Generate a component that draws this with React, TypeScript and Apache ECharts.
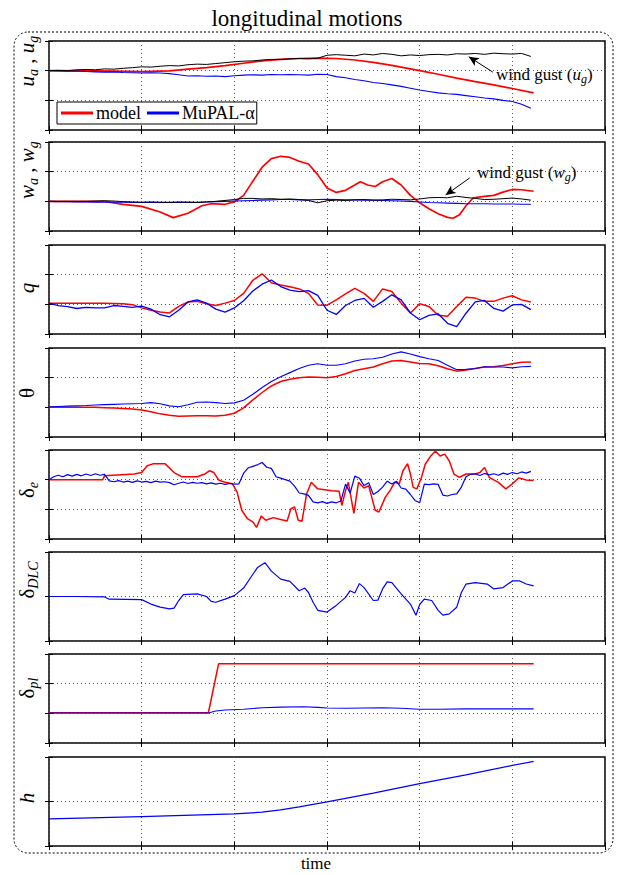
import { useEffect, useRef } from 'react';
import * as echarts from 'echarts';

// ---- data (time in tenths of a grid division; values in panel units) ----
// uniformly sampled series: one sample per time unit (t = 0, 1, 2, ...)
const U_GUST = [
  2.0, 2.01, 2.0, 2.03, 2.04, 2.03, 2.06, 2.05, 2.08, 2.1,
  2.13, 2.12, 2.15, 2.17, 2.16, 2.2, 2.22, 2.21, 2.24, 2.27,
  2.3, 2.32, 2.33, 2.36, 2.38, 2.38, 2.4, 2.41, 2.4, 2.42,
  2.52, 2.54, 2.52, 2.5, 2.56, 2.53, 2.58, 2.55, 2.5, 2.53,
  2.51, 2.54, 2.55, 2.53, 2.57, 2.56, 2.58, 2.55, 2.59, 2.57,
  2.56, 2.58, 2.48,
];
const U_MUPAL = [
  2.0, 1.99, 1.98, 1.99, 1.97, 1.96, 1.95, 1.96, 1.94, 1.93,
  1.92, 1.93, 1.92, 1.9, 1.86, 1.82, 1.83, 1.81, 1.82, 1.8,
  1.83, 1.85, 1.86, 1.85, 1.87, 1.86, 1.87, 1.86, 1.85, 1.88,
  1.87, 1.8, 1.76, 1.7, 1.66, 1.6, 1.57, 1.52, 1.47, 1.41,
  1.35, 1.3, 1.25, 1.22, 1.2, 1.16, 1.12, 1.08, 1.05, 1.0,
  0.96, 0.87, 0.73,
];
const U_MODEL: [number, number][] = [
  [0, 2.0], [5, 1.99], [10, 1.97], [13, 1.99], [15, 2.05], [17, 2.1], [19, 2.17],
  [21, 2.25], [23, 2.33], [25, 2.38], [27, 2.41], [29, 2.42], [31, 2.41], [33, 2.36],
  [35, 2.28], [37, 2.18], [39, 2.06], [40, 2.0], [42, 1.88], [44, 1.75], [46, 1.63],
  [48, 1.52], [50, 1.4], [52.3, 1.25],
];

const W_GUST = [
  1.0, 1.0, 1.0, 1.0, 1.0, 1.01, 1.02, 1.01, 0.99, 0.98,
  0.97, 0.98, 0.97, 0.96, 0.98, 0.97, 0.96, 0.98, 1.0, 1.03,
  1.06, 1.1, 1.1, 1.08, 1.09, 1.07, 1.08, 1.06, 1.03, 0.95,
  1.02, 1.04, 1.03, 1.05, 1.06, 1.04, 1.05, 1.07, 1.06, 1.05,
  1.08, 1.12, 1.13, 1.12, 1.17, 1.13, 1.1, 1.06, 1.07, 1.09,
  1.11, 1.08, 1.04,
];
const W_MUPAL = [
  1.0, 0.99, 0.99, 0.98, 0.98, 0.97, 0.97, 0.97, 0.97, 0.96,
  0.96, 0.96, 0.96, 0.97, 0.96, 0.97, 0.97, 0.98, 0.99, 1.0,
  1.01, 1.02, 1.03, 1.04, 1.05, 1.06, 1.06, 1.05, 1.05, 1.06,
  1.07, 1.06, 1.05, 1.05, 1.04, 1.04, 1.03, 1.02, 1.01, 1.0,
  0.98, 0.96, 0.95, 0.94, 0.93, 0.92, 0.92, 0.92, 0.91, 0.91,
  0.91, 0.9, 0.9,
];
const W_MODEL: [number, number][] = [
  [0, 1.0], [6, 1.0], [8, 0.9], [10, 0.83], [12, 0.64], [13.4, 0.45], [15, 0.6],
  [16.5, 0.85], [17.5, 0.92], [19, 0.9], [20, 0.98], [21, 1.2], [22, 1.68], [23, 2.15],
  [24, 2.44], [25, 2.52], [26, 2.48], [27, 2.35], [28, 2.26], [29, 1.9], [30, 1.45],
  [31, 1.3], [32, 1.37], [33, 1.55], [33.6, 1.66], [34.4, 1.55], [35.2, 1.5], [36, 1.66],
  [37, 1.77], [38, 1.55], [39, 1.2], [40, 0.95], [41, 0.75], [42, 0.58], [43, 0.46],
  [43.6, 0.43], [44.3, 0.55], [45, 0.85], [45.8, 1.12], [47, 1.17], [48, 1.2], [49, 1.31],
  [50, 1.4], [51, 1.39], [52.3, 1.34],
];

const Q_MODEL = [
  1.04, 1.04, 1.04, 1.04, 1.04, 1.04, 1.04, 1.03, 1.02, 0.99,
  0.88, 0.8, 0.74, 0.71, 0.93, 1.08, 1.1, 1.02, 0.96, 1.04,
  1.13, 1.37, 1.81, 2.03, 1.73, 1.65, 1.59, 1.52, 1.37, 0.98,
  0.97, 1.15, 1.35, 1.54, 1.37, 1.1, 1.52, 1.43, 1.04, 0.71,
  1.02, 0.93, 0.63, 0.6, 0.93, 1.24, 1.21, 1.1, 1.1, 1.21,
  1.29, 1.15, 1.08,
];
const Q_MUPAL = [
  1.04, 0.96, 0.92, 0.86, 0.9, 0.88, 0.88, 0.96, 0.93, 0.9,
  0.94, 0.84, 0.65, 0.58, 0.8, 1.08, 1.15, 1.04, 0.84, 0.74,
  0.88, 1.12, 1.45, 1.68, 1.82, 1.6, 1.48, 1.43, 1.46, 1.3,
  0.8, 0.66, 0.96, 1.13, 1.2, 0.9, 1.1, 1.32, 1.15, 0.71,
  0.48, 0.63, 0.68, 0.36, 0.25, 0.7, 1.08, 1.13, 0.86, 0.77,
  0.98, 1.0, 0.82,
];

const TH_MODEL = [
  1.0, 1.0, 1.0, 1.0, 1.0, 1.0, 0.99, 0.98, 0.96, 0.94,
  0.91, 0.85, 0.78, 0.73, 0.7, 0.71, 0.72, 0.72, 0.71, 0.73,
  0.8, 0.98, 1.25, 1.5, 1.72, 1.87, 1.95, 2.0, 2.02, 2.01,
  2.0, 2.04, 2.13, 2.24, 2.3, 2.36, 2.47, 2.56, 2.58, 2.53,
  2.48, 2.47, 2.4, 2.3, 2.22, 2.26, 2.31, 2.36, 2.37, 2.41,
  2.47, 2.52, 2.53,
];
const TH_MUPAL = [
  1.02, 1.03, 1.04, 1.05, 1.06, 1.08, 1.09, 1.1, 1.11, 1.12,
  1.13, 1.16, 1.12, 1.05, 1.02, 1.09, 1.17, 1.18, 1.16, 1.13,
  1.15, 1.24, 1.44, 1.67, 1.87, 2.03, 2.17, 2.31, 2.42, 2.47,
  2.42, 2.42, 2.47, 2.56, 2.62, 2.64, 2.69, 2.8, 2.87, 2.8,
  2.71, 2.64, 2.58, 2.42, 2.27, 2.28, 2.31, 2.37, 2.36, 2.36,
  2.33, 2.37, 2.38,
];

// elevator: measured trace sampled every half time unit
const DE_MUPAL = [
  2.0, 2.1, 2.15, 2.1, 2.17, 2.12, 2.18, 2.13, 2.19, 2.14, 2.2, 2.15, 2.18,
  1.96, 1.93, 1.97, 1.92, 1.95, 1.91, 1.96, 1.92, 1.94, 1.9, 1.95, 1.92, 1.93, 1.9,
  1.83, 1.88, 1.92, 1.87, 1.91, 1.88, 1.9, 1.86, 1.89, 1.85, 1.88, 1.84, 1.87, 1.85, 1.86,
  2.22, 2.4, 2.45, 2.5, 2.58, 2.42, 2.38,
  2.1, 2.05, 2.0, 1.95, 1.78, 1.55,
  1.52, 1.47, 1.25, 1.22, 1.26, 1.2, 1.25, 1.22, 1.28,
  1.85, 1.55, 2.12, 2.05, 1.8, 1.9, 1.5,
  1.6, 1.75, 1.95, 1.85, 1.95, 1.72, 1.68, 1.5,
  1.3, 1.22, 1.85, 1.83, 1.86, 1.84,
  1.48, 1.45, 1.5, 1.52, 1.75,
  2.1, 2.18, 2.2, 2.14, 2.21, 2.16, 2.2, 2.15, 2.22, 2.18, 2.24, 2.2, 2.26, 2.22, 2.28,
];
const DE_MODEL: [number, number][] = [
  [0, 2.0], [5.8, 2.0], [6.0, 2.13], [9.2, 2.19], [10, 2.24], [10.6, 2.47], [11.3, 2.54],
  [12.5, 2.54], [13.5, 2.24], [14.3, 2.1], [16, 2.1], [16.8, 2.19], [17.3, 2.3], [17.8, 2.24],
  [18.3, 1.99], [19, 1.91], [19.8, 1.86], [20.3, 1.58], [20.8, 0.97], [21.4, 0.69], [22, 0.58],
  [22.4, 0.39], [22.9, 0.77], [23.4, 0.63], [24.2, 0.72], [25, 0.66], [25.7, 0.61], [26.1, 1.02],
  [26.5, 1.08], [26.9, 0.63], [27.3, 0.6], [27.8, 1.52], [28.3, 1.91], [29, 1.69], [30.5, 1.63],
  [31.3, 1.61], [31.6, 1.13], [32, 1.63], [32.3, 1.91], [32.9, 0.86], [33.4, 1.91], [34, 1.72],
  [34.5, 1.8], [35.2, 0.97], [35.6, 0.91], [36.3, 1.41], [36.8, 1.63], [37.3, 1.91], [37.8, 1.86],
  [38.2, 2.3], [38.7, 2.54], [39, 2.19], [39.3, 1.74], [39.7, 1.69], [40.2, 2.08], [40.6, 2.52],
  [41.2, 2.8], [41.7, 2.97], [42.2, 2.8], [42.7, 2.86], [43.2, 2.63], [43.7, 2.19], [44.3, 2.08],
  [45, 2.19], [46, 2.19], [46.5, 2.24], [47, 2.41], [47.5, 2.08], [48.5, 1.91], [49.3, 1.69],
  [50, 1.86], [50.7, 2.06], [51.5, 1.99], [52.3, 1.97],
];

const DLC_MUPAL: [number, number][] = [
  [0, 1.0], [3, 1.0], [6, 0.99], [6.5, 0.94], [10, 0.93], [11, 0.83], [12, 0.76], [13, 0.72],
  [13.5, 0.74], [14, 0.91], [14.5, 1.04], [16, 1.06], [17, 1.0], [17.5, 0.89], [18, 0.87],
  [19, 0.94], [20, 1.02], [21, 1.19], [22, 1.5], [22.5, 1.65], [23, 1.72], [23.3, 1.76],
  [24, 1.57], [25, 1.39], [26, 1.34], [27, 1.13], [27.6, 1.19], [28, 1.09], [28.5, 0.87],
  [29, 0.69], [30, 0.65], [31, 0.8], [32, 0.98], [32.5, 1.13], [33, 1.08], [33.5, 1.29],
  [34, 1.2], [35, 0.91], [35.5, 0.92], [36, 1.17], [36.5, 1.33], [37, 1.31], [38, 1.06],
  [39, 0.83], [39.6, 0.58], [40, 0.82], [40.5, 0.94], [41.3, 0.91], [42, 0.69], [42.5, 0.58],
  [43.2, 0.61], [44, 0.76], [44.5, 1.09], [45, 1.28], [46, 1.31], [47.3, 1.28], [48, 1.17],
  [49, 1.2], [50, 1.35], [50.8, 1.35], [51.5, 1.28], [52.3, 1.24],
];

const PL_MODEL: [number, number][] = [[0, 1.02], [17.2, 1.02], [18.3, 2.67], [52.3, 2.67]];
const PL_MUPAL: [number, number][] = [
  [0, 1.01], [17.2, 1.01], [18, 1.08], [19, 1.11], [21, 1.14], [23, 1.19], [25, 1.21],
  [27.5, 1.22], [29, 1.2], [30, 1.18], [32, 1.17], [34, 1.18], [36, 1.19], [38, 1.17],
  [40, 1.14], [42, 1.14], [45, 1.15], [48, 1.15], [52.3, 1.15],
];

const H_MUPAL: [number, number][] = [
  [0, 0.61], [10, 0.66], [20, 0.72], [23, 0.76], [25, 0.81], [27, 0.88], [30, 0.99],
  [35, 1.19], [40, 1.4], [45, 1.6], [50, 1.81], [52.3, 1.9],
];

// gust annotation arrows: [tail, head] in data coordinates
const U_GUST_ARROW: [number, number][] = [[47.9, 1.95], [45.3, 2.47]];
const W_GUST_ARROW: [number, number][] = [[45.4, 1.79], [42.8, 1.21]];

const Y_LABELS = [
  '{i|u}{s|a}{n| , }{i|u}{s|g}',
  '{i|w}{s|a}{n| , }{i|w}{s|g}',
  '{i|q}',
  '{g|θ}',
  '{g|δ}{s|e}',
  '{g|δ}{s|DLC}',
  '{g|δ}{s|pl}',
  '{i|h}',
];

// ---- layout ----
const SERIF = "'Liberation Serif', 'DejaVu Serif', serif";
const RED = '#ff0000';
const BLUE = '#0000ff';
const BLACK = '#000000';
const PLOT_LEFT = 49;
const PLOT_WIDTH = 556;
const PANEL_TOPS = [41, 142, 245, 348, 450, 552, 654, 757];
const PANEL_HEIGHT = 89;
const PANEL_YMAX = [3, 3, 3, 3, 3, 2, 3, 2];
const LABEL_Y = [61, 170, 288, 393, 490, 580, 688, 798];

const seq = (vals: number[], step: number): [number, number][] =>
  vals.map((v, i) => [i * step, v]);

function buildOption(): echarts.EChartsOption {
  const grid: any[] = [];
  const xAxis: any[] = [];
  const yAxis: any[] = [];
  const tick = { show: true, inside: true, length: 4, lineStyle: { color: BLACK, width: 1 } };
  const dotted = { show: true, lineStyle: { color: '#555', type: [1, 3], width: 1 } };

  PANEL_TOPS.forEach((top, i) => {
    grid.push({
      left: PLOT_LEFT, width: PLOT_WIDTH, top, height: PANEL_HEIGHT,
      show: true, borderColor: BLACK, borderWidth: 1.5, backgroundColor: 'transparent',
      outerBoundsMode: 'none',
    });
    const xBase = {
      type: 'value', gridIndex: i, min: 0, max: 60, interval: 10,
      axisLine: { show: false }, axisTick: tick, axisLabel: { show: false },
    };
    xAxis.push({ ...xBase, position: 'bottom', splitLine: dotted });
    xAxis.push({ ...xBase, position: 'top', splitLine: { show: false } });
    const yBase = {
      type: 'value', gridIndex: i, min: 0, max: PANEL_YMAX[i], interval: 1,
      axisLine: { show: false }, axisTick: tick, axisLabel: { show: false },
    };
    yAxis.push({ ...yBase, position: 'left', splitLine: dotted });
    yAxis.push({ ...yBase, position: 'right', splitLine: { show: false } });
  });

  const line = (name: string, data: [number, number][], panel: number, color: string, width: number, extra: any = {}) => ({
    type: 'line', name, data, xAxisIndex: panel * 2, yAxisIndex: panel * 2,
    symbol: 'none', showSymbol: false, silent: true, smooth: false,
    lineStyle: { color, width }, itemStyle: { color }, ...extra,
  });

  const arrowMark = (pts: [number, number][]) => ({
    silent: true, symbol: ['none', 'arrow'], symbolSize: [7, 10],
    lineStyle: { color: BLACK, width: 1, type: 'solid' }, label: { show: false },
    data: [[{ coord: pts[0] }, { coord: pts[1] }]],
  });

  const series = [
    line('model', U_MODEL, 0, RED, 1.7),
    line('MuPAL-α', seq(U_MUPAL, 1), 0, BLUE, 1.1),
    line('wind gust', seq(U_GUST, 1), 0, BLACK, 1, { markLine: arrowMark(U_GUST_ARROW) }),
    line('model', W_MODEL, 1, RED, 1.7),
    line('MuPAL-α', seq(W_MUPAL, 1), 1, BLUE, 1.1),
    line('wind gust', seq(W_GUST, 1), 1, BLACK, 1, { markLine: arrowMark(W_GUST_ARROW) }),
    line('model', seq(Q_MODEL, 1), 2, RED, 1.5),
    line('MuPAL-α', seq(Q_MUPAL, 1), 2, BLUE, 1.3),
    line('model', seq(TH_MODEL, 1), 3, RED, 1.5),
    line('MuPAL-α', seq(TH_MUPAL, 1), 3, BLUE, 1.1),
    line('model', DE_MODEL, 4, RED, 1.5),
    line('MuPAL-α', seq(DE_MUPAL, 0.5), 4, BLUE, 1.2),
    line('MuPAL-α', DLC_MUPAL, 5, BLUE, 1.2),
    line('model', PL_MODEL, 6, RED, 1.5),
    line('MuPAL-α', PL_MUPAL, 6, BLUE, 1.1),
    line('MuPAL-α', H_MUPAL, 7, BLUE, 1.2),
  ];

  const labelRich = {
    i: { fontFamily: SERIF, fontSize: 21, fontStyle: 'italic', lineHeight: 26, fill: BLACK },
    n: { fontFamily: SERIF, fontSize: 21, lineHeight: 26, fill: BLACK },
    g: { fontFamily: SERIF, fontSize: 21, lineHeight: 26, fill: BLACK },
    s: { fontFamily: SERIF, fontSize: 14, fontStyle: 'italic', lineHeight: 14, verticalAlign: 'bottom', fill: BLACK },
  };
  const noteRich = {
    n: { fontFamily: SERIF, fontSize: 17, lineHeight: 22, fill: BLACK },
    i: { fontFamily: SERIF, fontSize: 17, fontStyle: 'italic', lineHeight: 22, fill: BLACK },
    s: { fontFamily: SERIF, fontSize: 12, fontStyle: 'italic', lineHeight: 12, verticalAlign: 'bottom', fill: BLACK },
  };

  const graphic: any[] = [
    {
      type: 'rect', silent: true, z: 0,
      shape: { x: 14, y: 32, width: 599, height: 821, r: 14 },
      style: { fill: 'none', stroke: BLACK, lineWidth: 1, lineDash: [2, 2] },
    },
    {
      type: 'text', silent: true, x: 307, y: 18,
      style: { text: 'longitudinal motions', fontFamily: SERIF, fontSize: 23, fill: BLACK, align: 'center', verticalAlign: 'middle' },
    },
    {
      type: 'text', silent: true, x: 316, y: 863,
      style: { text: 'time', fontFamily: SERIF, fontSize: 17, fill: BLACK, align: 'center', verticalAlign: 'middle' },
    },
    {
      type: 'text', silent: true, x: 496, y: 74,
      style: { text: '{n|wind gust (}{i|u}{s|g}{n|)}', rich: noteRich, align: 'left', verticalAlign: 'middle' },
    },
    {
      type: 'text', silent: true, x: 477, y: 172,
      style: { text: '{n|wind gust (}{i|w}{s|g}{n|)}', rich: noteRich, align: 'left', verticalAlign: 'middle' },
    },
    ...Y_LABELS.map((text, i) => ({
      type: 'text', silent: true, x: 27, y: LABEL_Y[i], rotation: Math.PI / 2,
      style: { text, rich: labelRich, align: 'center', verticalAlign: 'middle' },
    })),
  ];

  return {
    animation: false,
    backgroundColor: '#ffffff',
    grid, xAxis, yAxis, series, graphic,
    legend: {
      data: ['model', 'MuPAL-α'],
      left: 57, top: 102, orient: 'horizontal',
      icon: 'rect',
      itemWidth: 32, itemHeight: 3, itemGap: 6,
      padding: [2, 2, 2, 4],
      borderColor: BLACK, borderWidth: 1, borderRadius: 0,
      backgroundColor: '#ffffff',
      selectedMode: false,
      textStyle: { fontFamily: SERIF, fontSize: 18, color: BLACK, padding: [0, 0, 0, -2] },
    },
  } as any;
}

export default function App() {
  const ref = useRef<HTMLDivElement>(null);
  useEffect(() => {
    if (!ref.current) return;
    const chart = echarts.init(ref.current, undefined, { renderer: 'svg' });
    chart.setOption(buildOption());
    return () => chart.dispose();
  }, []);
  return (
    <div
      ref={ref}
      style={{ position: 'absolute', left: 0, top: 0, width: 618, height: 875, background: '#fff' }}
    />
  );
}
